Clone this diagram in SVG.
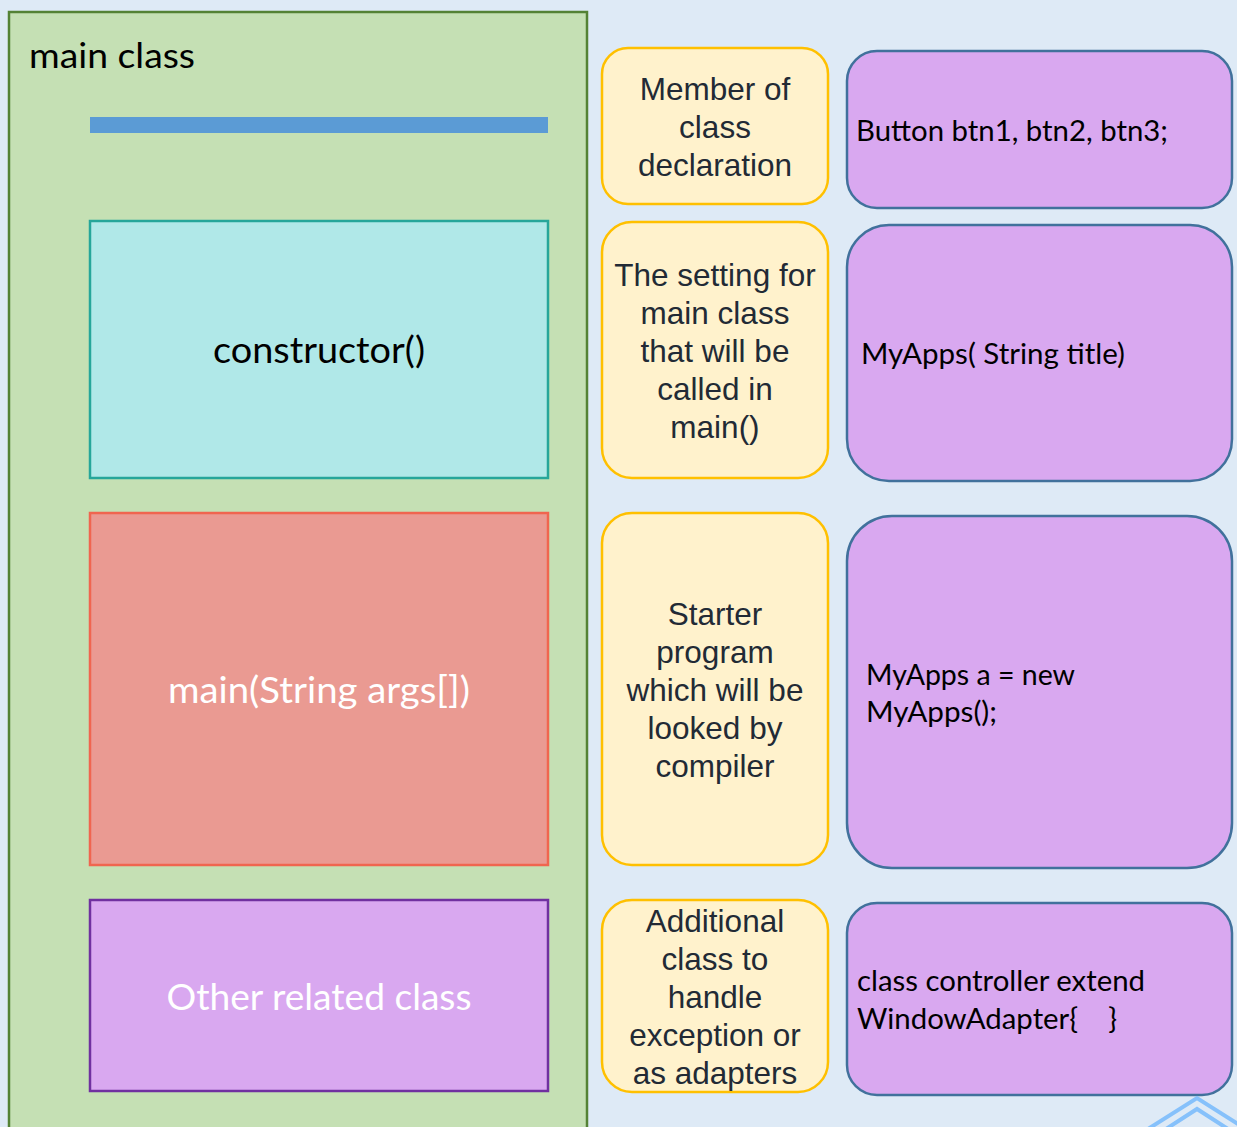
<svg xmlns="http://www.w3.org/2000/svg" width="1237" height="1127" viewBox="0 0 1237 1127">
<style>
.cal{font-family:Lato,"Open Sans","Liberation Sans",sans-serif;}
.ar{font-family:"Liberation Sans",Arial,sans-serif;font-size:31.5px;fill:#222a35;text-anchor:middle;}
.yel{fill:#fff2cc;stroke:#ffc000;stroke-width:2.5;}
.pur{fill:#d9a8f0;stroke:#41719c;stroke-width:2.5;}
.code{font-size:28px;fill:#000;}
</style>
<rect width="1237" height="1127" fill="#deeaf6"/>
<g id="main-class">
<rect x="9" y="12" width="578" height="1130" fill="#c5e0b4" stroke="#548235" stroke-width="2.5"/>
<text class="cal" x="29" y="68" font-size="34" fill="#000" textLength="166" lengthAdjust="spacingAndGlyphs">main class</text>
</g>
<g id="bar"><rect x="90" y="117" width="458" height="16" fill="#5b9bd5"/></g>
<g id="constructor">
<rect x="90" y="221" width="458" height="257" fill="#b0e8e8" stroke="#26a69a" stroke-width="2.5"/>
<text class="cal" x="319" y="363" font-size="36" text-anchor="middle" fill="#000" textLength="212" lengthAdjust="spacingAndGlyphs">constructor()</text>
</g>
<g id="main-method">
<rect x="90" y="513" width="458" height="352" fill="#ea9a92" stroke="#f0654f" stroke-width="2.5"/>
<text class="cal" x="319" y="703" font-size="36" text-anchor="middle" fill="#fff" textLength="302" lengthAdjust="spacingAndGlyphs">main(String args[])</text>
</g>
<g id="other-class">
<rect x="90" y="900" width="458" height="191" fill="#d9a8f0" stroke="#7030a0" stroke-width="2.5"/>
<text class="cal" x="319" y="1010" font-size="36" text-anchor="middle" fill="#fff" textLength="305" lengthAdjust="spacingAndGlyphs">Other related class</text>
</g>
<g id="desc-member">
<rect class="yel" x="602" y="48" width="226" height="156" rx="26"/>
<text class="ar"><tspan x="715" y="100">Member of</tspan><tspan x="715" y="138">class</tspan><tspan x="715" y="176">declaration</tspan></text>
</g>
<g id="desc-setting">
<rect class="yel" x="602" y="222" width="226" height="256" rx="30"/>
<text class="ar"><tspan x="715" y="286">The setting for</tspan><tspan x="715" y="324">main class</tspan><tspan x="715" y="362">that will be</tspan><tspan x="715" y="400">called in</tspan><tspan x="715" y="438">main()</tspan></text>
</g>
<g id="desc-starter">
<rect class="yel" x="602" y="513" width="226" height="352" rx="30"/>
<text class="ar"><tspan x="715" y="625">Starter</tspan><tspan x="715" y="663">program</tspan><tspan x="715" y="701">which will be</tspan><tspan x="715" y="739">looked by</tspan><tspan x="715" y="777">compiler</tspan></text>
</g>
<g id="desc-additional">
<rect class="yel" x="602" y="900" width="226" height="192" rx="30"/>
<text class="ar"><tspan x="715" y="932">Additional</tspan><tspan x="715" y="970">class to</tspan><tspan x="715" y="1008">handle</tspan><tspan x="715" y="1046">exception or</tspan><tspan x="715" y="1084">as adapters</tspan></text>
</g>
<g id="code-button">
<rect class="pur" x="847" y="51" width="385" height="157" rx="30"/>
<text class="cal code" x="856" y="141" textLength="312" lengthAdjust="spacingAndGlyphs">Button btn1, btn2, btn3;</text>
</g>
<g id="code-constructor">
<rect class="pur" x="847" y="225" width="385" height="256" rx="42"/>
<text class="cal code" x="861" y="364" textLength="264" lengthAdjust="spacingAndGlyphs">MyApps( String title)</text>
</g>
<g id="code-main">
<rect class="pur" x="847" y="516" width="385" height="352" rx="45"/>
<text class="cal code"><tspan x="866" y="685" textLength="209" lengthAdjust="spacingAndGlyphs">MyApps a = new</tspan><tspan x="866" y="722" textLength="131" lengthAdjust="spacingAndGlyphs">MyApps();</tspan></text>
</g>
<g id="code-class">
<rect class="pur" x="847" y="903" width="385" height="192" rx="30"/>
<text class="cal code"><tspan x="857" y="991" textLength="288" lengthAdjust="spacingAndGlyphs">class controller extend</tspan><tspan x="857" y="1029" textLength="260" lengthAdjust="spacingAndGlyphs" xml:space="preserve">WindowAdapter{    }</tspan></text>
</g>
<g id="chevron" fill="none" stroke="#86c1fb" stroke-width="4">
<polyline points="1148,1129 1197,1098 1246,1129"/>
<polyline points="1166,1129 1197,1109 1228,1129"/>
</g>
<g id="connectors"></g>
</svg>
